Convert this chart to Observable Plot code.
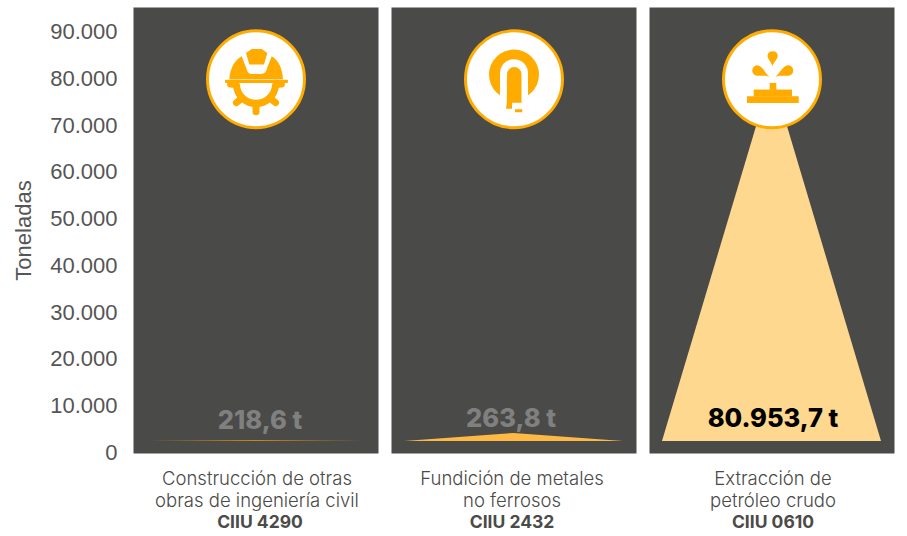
<!DOCTYPE html>
<html><head><meta charset="utf-8">
<script src="https://cdn.jsdelivr.net/npm/d3@7"></script>
<script src="https://cdn.jsdelivr.net/npm/@observablehq/plot@0.6"></script>
<style>html,body{margin:0;padding:0;background:#fff}svg{display:block}
g[aria-label="fx-axis tick label"][font-weight="300"]{letter-spacing:.35px}</style>
</head><body><div id="chart"></div>
<script>
const categories = ["Construcción de otras\nobras de ingeniería civil", "Fundición de metales\nno ferrosos", "Extracción de\npetróleo crudo"];
const codes = ["CIIU 4290", "CIIU 2432", "CIIU 0610"];
const labels = ["218,6 t", "263,8 t", "80.953,7 t"];
const peaks = [2800, 4300, 80950];
const baseline = 2560;
const fills = ["#c98a17", "#fdb944", "#ffd88f"];
const labelColors = ["#808080", "#808080", "#000000"];
const yTicks = [0,10000,20000,30000,40000,50000,60000,70000,80000,90000];
const spreadX = [-0.894, 0, 0.894];

const ORANGE = "#ffab00";
const svgUri = s => "data:image/svg+xml;utf8," + encodeURIComponent(`<svg xmlns="http://www.w3.org/2000/svg" viewBox="0 0 100 100" width="100" height="100"><g fill="${ORANGE}" stroke="none">${s}</g></svg>`);
const gearTeeth = [-5, 40, 90, 140, 185].map(a => {
  const t = a*Math.PI/180, c = Math.cos(t), s = Math.sin(t);
  return `<line x1="${50+20*c}" y1="${57+20*s}" x2="${50+25.5*c}" y2="${57+25.5*s}" stroke="${ORANGE}" stroke-width="7" stroke-linecap="round"/>`;
}).join("");
const icons = [
  svgUri(`<path d="M23.3 50 C24 40 28 31 35.7 27 L40.7 40 Q41.5 44.7 46 44.7 L55 44.7 Q60 44.7 61 39 L65.7 27 C73 31 76.5 40 77 50Z"/>
    <path d="M40 23.7 L45.7 19.7 L55.7 19.7 L61.3 23.7 L58 35.3 L43.3 35.3Z"/>
    <rect x="19" y="50.5" width="63" height="3.2" rx="1"/>
    <path d="M27 55 L34 55 A16 15.5 0 0 0 66 55 L73 55 A23 23 0 0 1 27 55Z"/>${gearTeeth}`),
  svgUri(`<circle cx="50" cy="45.3" r="25"/><path fill="#fff" d="M36 44 A14 14 0 0 1 64 44 L64 70 L36 70Z"/>
    <path fill="#fff" d="M38 62 h24 v24 h-24z"/>
    <path d="M43 45 A7.2 7.2 0 0 1 57.5 45 L57.5 73.5 L48 73.5 L48 79.5 L42 79.5 L42.8 73.5Z"/><rect x="51" y="80" width="7.3" height="3"/>`),
  svgUri(`<path d="M50.5 37 C49.5 33 45.5 30 45.5 26.5 A5.2 5.2 0 0 1 55.8 26.5 C55.8 30 51.5 33 50.5 37Z"/>
    <path d="M47.7 48 C44 45.5 40 47 36 46.5 A5.2 5.2 0 0 1 35 36 C40 36 42.5 43 47.7 48Z"/>
    <path d="M53.3 48 C57 45.5 61 47 65.5 46.5 A5.2 5.2 0 0 0 66.5 36 C61 36 58.5 43 53.3 48Z"/>
    <rect x="47.7" y="53.7" width="6.6" height="7"/><rect x="31.7" y="60.3" width="38.3" height="7"/><rect x="25" y="67" width="51.7" height="6.7"/>`)
];

const areaRows = categories.flatMap((c, i) => spreadX.map((x, j) => ({
  category: c, x, y1: baseline, y2: j === 1 ? peaks[i] : baseline
})));
const panels = categories.map((c, i) => ({category: c, label: labels[i], color: labelColors[i], icon: icons[i]}));
const fmt = v => d3.format(",")(v).replace(/,/g, ".");
const FONT = "Inter, 'Noto Sans', sans-serif";
const AXIS_FONT = "'Liberation Sans', Arial, sans-serif";
const valueText = (i, dx, dy) => Plot.text([panels[i]], {fx: "category", text: "label", fill: "color", frameAnchor: "bottom", dx, dy, fontSize: 25.5, fontWeight: 800, lineAnchor: "middle"});
const nameAxis = (i, dx) => Plot.axisFx({ticks: [categories[i]], anchor: "bottom", dx, tickSize: 0, tickPadding: 16, label: null, fontSize: 18.5, fontWeight: 300, fill: "#4a4a48", lineHeight: 1.19});
const codeAxis = (i, dx) => Plot.axisFx({ticks: [categories[i]], anchor: "bottom", dx, tickSize: 0, tickPadding: 62, label: null, fontSize: 17.5, fontWeight: 700, fill: "#4a4a48", tickFormat: d => codes[categories.indexOf(d)]});

const chart = Plot.plot({
  width: 907, height: 536,
  marginLeft: 132, marginRight: 11, marginTop: 7, marginBottom: 83,
  style: {fontFamily: FONT, background: "#fff"},
  x: {domain: [-1, 1], axis: null},
  y: {domain: [0, 95340], axis: null},
  fx: {domain: categories, paddingInner: 0.05, paddingOuter: 0, label: null, axis: null},
  color: {domain: categories, range: fills},
  marks: [
    Plot.frame({fill: "#4a4a48", stroke: "none"}),
    Plot.areaY(areaRows, {x: "x", y1: "y1", y2: "y2", fx: "category", fill: "category", curve: "linear"}),
    valueText(0, 4, -33),
    valueText(1, -3, -35),
    valueText(2, 1, -35),
    Plot.dot(panels, {fx: "category", x: () => 0, y: () => 80000, r: 48.5, fill: "#fff", stroke: ORANGE, strokeWidth: 3}),
    Plot.image(panels, {fx: "category", x: () => 0, y: () => 80000, src: "icon", width: 100, height: 100}),
    Plot.axisY({ticks: yTicks, tickFormat: fmt, tickSize: 0, tickPadding: 16, dy: -0.5, fontFamily: AXIS_FONT, fontSize: 22, fill: "#555", label: null}),
    Plot.axisY({ticks: [], label: "Toneladas", labelAnchor: "center", labelArrow: "none", labelOffset: 118, fontFamily: AXIS_FONT, fontSize: 22, fill: "#555"}),
    nameAxis(0, 1), nameAxis(1, -2), nameAxis(2, 1),
    codeAxis(0, 4), codeAxis(1, -2), codeAxis(2, 1)
  ]
});
document.getElementById("chart").append(chart);
</script></body></html>
